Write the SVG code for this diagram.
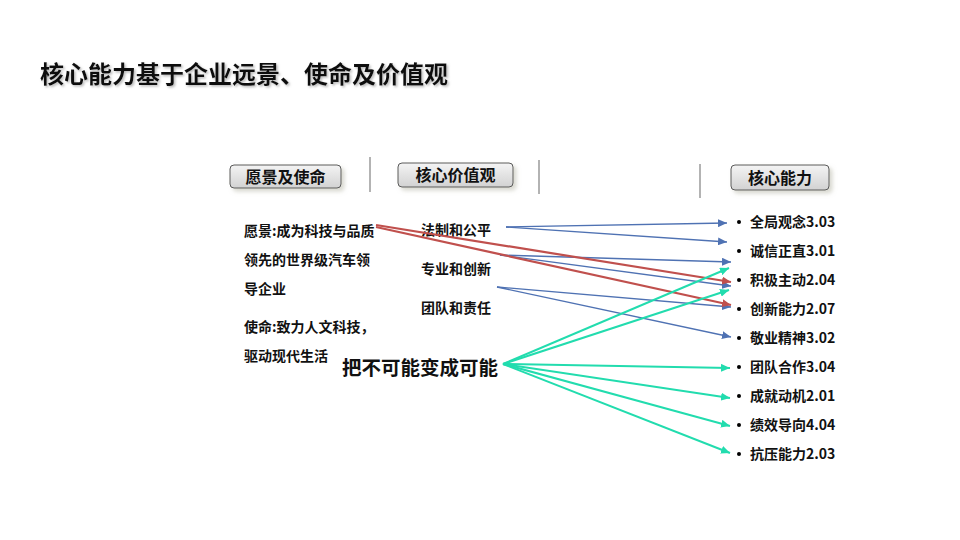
<svg xmlns="http://www.w3.org/2000/svg" width="960" height="540" viewBox="0 0 960 540">
<defs>
<style>
text{font-family:"Noto Sans CJK SC","Microsoft YaHei","Noto Sans",sans-serif;font-weight:bold;fill:#111}
.t14{font-size:14px}
.hdr{font-size:16px;text-anchor:middle}
.box{fill:url(#g);stroke:#5a5a5a;stroke-width:1}
.sep{stroke:#808080;stroke-width:1.2}
.blue{stroke:#4f72b3;stroke-width:1.3;fill:none;marker-end:url(#ab)}
.red{stroke:#c0504d;stroke-width:2.2;fill:none;marker-end:url(#ar)}
.green{stroke:#22dcae;stroke-width:2;fill:none;marker-end:url(#ag)}
</style>
<linearGradient id="g" x1="0" y1="0" x2="0" y2="1">
<stop offset="0" stop-color="#f4f4f4"/>
<stop offset="1" stop-color="#d2d2d2"/>
</linearGradient>
<filter id="sh" x="-10%" y="-30%" width="130%" height="190%">
<feDropShadow dx="3" dy="3" stdDeviation="2" flood-color="#b0b0a0" flood-opacity="0.5"/>
</filter>
<filter id="tsh" x="-5%" y="-20%" width="110%" height="150%">
<feDropShadow dx="1.5" dy="1.5" stdDeviation="1" flood-color="#888" flood-opacity="0.6"/>
</filter>
<marker id="ab" markerUnits="userSpaceOnUse" markerWidth="10" markerHeight="8" refX="9" refY="4" orient="auto">
<path d="M0,0 L9,4 L0,8 z" fill="#4f72b3"/>
</marker>
<marker id="ar" markerUnits="userSpaceOnUse" markerWidth="10" markerHeight="8" refX="9" refY="4" orient="auto">
<path d="M0,0 L9,4 L0,8 z" fill="#c0504d"/>
</marker>
<marker id="ag" markerUnits="userSpaceOnUse" markerWidth="10" markerHeight="8" refX="9" refY="4" orient="auto">
<path d="M0,0 L9,4 L0,8 z" fill="#22dcae"/>
</marker>
</defs>
<rect width="960" height="540" fill="#ffffff"/>

<g id="title">
<text x="40" y="83" style="font-size:24px" filter="url(#tsh)">核心能力基于企业远景、使命及价值观</text>
</g>

<g id="separators">
<line class="sep" x1="370" y1="157" x2="370" y2="192"/>
<line class="sep" x1="539" y1="160" x2="539" y2="194"/>
<line class="sep" x1="700" y1="164" x2="700" y2="198"/>
</g>

<g id="hdr-vision">
<rect class="box" x="230" y="165" width="111" height="23" rx="4" filter="url(#sh)"/>
<text class="hdr" x="285.5" y="182.5">愿景及使命</text>
</g>
<g id="hdr-values">
<rect class="box" x="398" y="163" width="115" height="24" rx="4" filter="url(#sh)"/>
<text class="hdr" x="455.5" y="181">核心价值观</text>
</g>
<g id="hdr-competence">
<rect class="box" x="731" y="165" width="98" height="25" rx="4" filter="url(#sh)"/>
<text class="hdr" x="780" y="183.5">核心能力</text>
</g>

<g id="vision-text">
<text class="t14" x="244" y="236">愿景:成为科技与品质</text>
<text class="t14" x="244" y="265">领先的世界级汽车领</text>
<text class="t14" x="244" y="294">导企业</text>
<text class="t14" x="244" y="332">使命:致力人文科技，</text>
<text class="t14" x="244" y="361">驱动现代生活</text>
</g>

<g id="values">
<text class="t14" x="421" y="235">法制和公平</text>
<text class="t14" x="421" y="274">专业和创新</text>
<text class="t14" x="421" y="313">团队和责任</text>
</g>

<g id="slogan">
<text x="342" y="375" style="font-size:19.5px">把不可能变成可能</text>
</g>

<g id="competences">
<g id="c1"><circle cx="739" cy="222" r="2"/><text class="t14" x="750" y="227">全局观念3.03</text></g>
<g id="c2"><circle cx="739" cy="251" r="2"/><text class="t14" x="750" y="256">诚信正直3.01</text></g>
<g id="c3"><circle cx="739" cy="280" r="2"/><text class="t14" x="750" y="285">积极主动2.04</text></g>
<g id="c4"><circle cx="739" cy="309" r="2"/><text class="t14" x="750" y="314">创新能力2.07</text></g>
<g id="c5"><circle cx="739" cy="338" r="2"/><text class="t14" x="750" y="343">敬业精神3.02</text></g>
<g id="c6"><circle cx="739" cy="367" r="2"/><text class="t14" x="750" y="372">团队合作3.04</text></g>
<g id="c7"><circle cx="739" cy="396" r="2"/><text class="t14" x="750" y="401">成就动机2.01</text></g>
<g id="c8"><circle cx="739" cy="425" r="2"/><text class="t14" x="750" y="430">绩效导向4.04</text></g>
<g id="c9"><circle cx="739" cy="454" r="2"/><text class="t14" x="750" y="459">抗压能力2.03</text></g>
</g>

<g id="connectors">
<line class="blue" x1="506" y1="227" x2="727" y2="223"/>
<line class="blue" x1="506" y1="227" x2="727" y2="242"/>
<line class="blue" x1="500" y1="255" x2="731" y2="262"/>
<line class="blue" x1="500" y1="255" x2="731" y2="286"/>
<line class="blue" x1="497" y1="287" x2="731" y2="307"/>
<line class="blue" x1="497" y1="287" x2="731" y2="337"/>
<line class="red" x1="376" y1="225" x2="731" y2="282"/>
<line class="red" x1="376" y1="227" x2="731" y2="305"/>
<line class="green" x1="503" y1="364" x2="729" y2="268"/>
<line class="green" x1="503" y1="364" x2="729" y2="290"/>
<line class="green" x1="503" y1="364" x2="730" y2="368"/>
<line class="green" x1="503" y1="364" x2="730" y2="398"/>
<line class="green" x1="503" y1="364" x2="730" y2="426"/>
<line class="green" x1="503" y1="364" x2="730" y2="453"/>
</g>
</svg>
